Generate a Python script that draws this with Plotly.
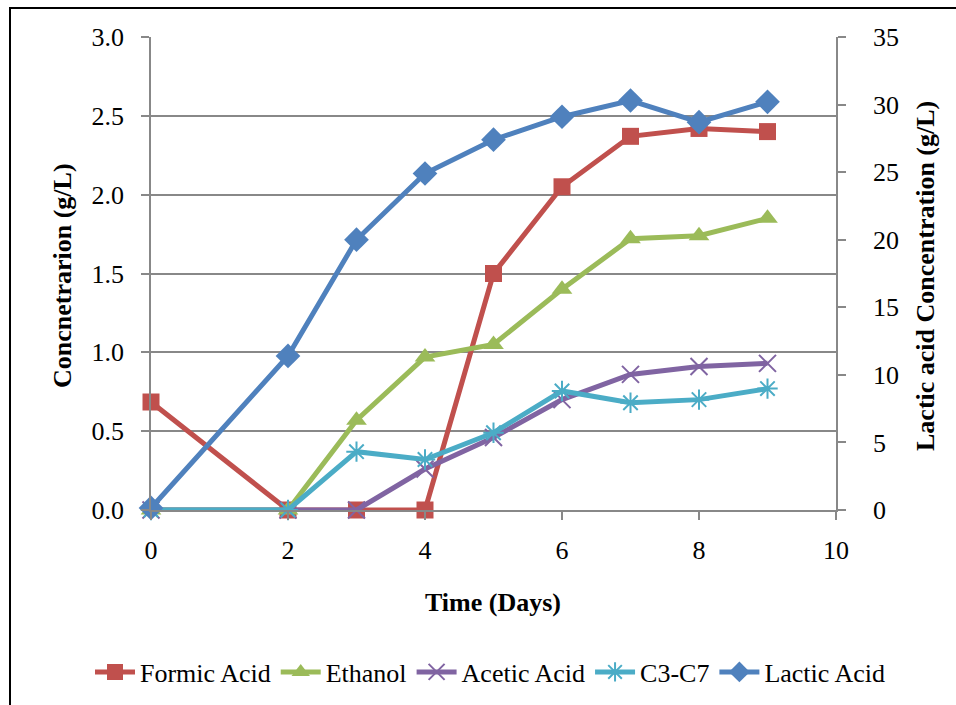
import plotly.graph_objects as go

days = [0, 2, 3, 4, 5, 6, 7, 8, 9]
formic = [0.685, 0.0, 0.0, 0.0, 1.50, 2.05, 2.37, 2.42, 2.40]
ethanol = [0.0, 0.0, 0.57, 0.97, 1.05, 1.40, 1.72, 1.74, 1.85]
acetic = [0.0, 0.0, 0.0, 0.26, 0.46, 0.70, 0.86, 0.91, 0.93]
c3_c7 = [0.0, 0.0, 0.37, 0.32, 0.49, 0.755, 0.68, 0.70, 0.77]
lactic = [0.15, 11.4, 20.0, 24.9, 27.4, 29.1, 30.3, 28.7, 30.2]

left_ticks = [0, 0.5, 1.0, 1.5, 2.0, 2.5, 3.0]
right_ticks = [0, 5, 10, 15, 20, 25, 30, 35]
x_ticks = [0, 2, 4, 6, 8, 10]

FONT = "Liberation Serif"
FS = 26
GRID = "#888888"

fig = go.Figure()

series = [
    ("Formic Acid", formic, "#C0504D", dict(symbol="square", size=17)),
    ("Ethanol", ethanol, "#9BBB59", dict(symbol="triangle-up", size=18)),
    ("Acetic Acid", acetic, "#8064A2", dict(symbol="x-thin-open", size=17, line=dict(width=2))),
    ("C3-C7", c3_c7, "#4BACC6", dict(symbol="asterisk-open", size=17, line=dict(width=2))),
]
for name, vals, color, mk in series:
    mk = dict(mk, color=color)
    if "line" in mk:
        mk["line"] = dict(mk["line"], color=color)
    fig.add_trace(go.Scatter(x=days, y=vals, name=name, mode="lines+markers",
                             cliponaxis=False,
                             line=dict(color=color, width=5), marker=mk))

fig.add_trace(go.Scatter(x=days, y=lactic, name="Lactic Acid", mode="lines+markers",
                         yaxis="y2", cliponaxis=False, line=dict(color="#4F81BD", width=5),
                         marker=dict(symbol="diamond", size=19, color="#4F81BD")))

W, H = 956, 705
L, R, T, B = 151, 120, 37, 195
pw, ph = W - L - R, H - T - B

def px_x(p):
    return (p - L) / pw

def px_y(p):
    return (H - B - p) / ph

axis_common = dict(zeroline=False, showline=True, linecolor=GRID, linewidth=1.5,
                   ticks="outside", ticklen=8, tickcolor=GRID, tickwidth=1.5,
                   tickfont=dict(size=FS, family=FONT, color="black"))

fig.update_layout(
    width=W, height=H,
    margin=dict(l=L, r=R, t=T, b=B, autoexpand=False),
    paper_bgcolor="white", plot_bgcolor="white",
    font=dict(family=FONT, size=FS, color="black"),
    showlegend=True,
    legend=dict(orientation="h", x=px_x(90), xanchor="left", y=px_y(672), yanchor="middle",
                font=dict(size=FS, family=FONT), itemwidth=40, tracegroupgap=0,
                bgcolor="rgba(0,0,0,0)"),
    xaxis=dict(range=[0, 10], tickvals=x_ticks, showgrid=False,
               ticklabelstandoff=8, **axis_common),
    yaxis=dict(range=[0, 3.0], tickvals=left_ticks, tickformat=".1f",
               showgrid=True, gridcolor=GRID, gridwidth=1.5,
               ticklabelstandoff=12, **axis_common),
    yaxis2=dict(range=[0, 35], tickvals=right_ticks, overlaying="y", side="right",
                showgrid=False, ticklabelstandoff=22, **axis_common),
    annotations=[
        dict(text="<b>Concnetrarion (g/L)</b>", xref="paper", yref="paper",
             x=px_x(62), y=px_y(276), xanchor="center", yanchor="middle",
             textangle=-90, showarrow=False, font=dict(size=FS, family=FONT)),
        dict(text="<b>Lactic acid Concentration (g/L)</b>", xref="paper", yref="paper",
             x=px_x(925), y=px_y(276), xanchor="center", yanchor="middle",
             textangle=-90, showarrow=False, font=dict(size=FS, family=FONT)),
        dict(text="<b>Time (Days)</b>", xref="paper", yref="paper",
             x=px_x(493), y=px_y(602), xanchor="center", yanchor="middle",
             showarrow=False, font=dict(size=FS, family=FONT)),
    ],
    shapes=[
        dict(type="rect", xref="paper", yref="paper",
             x0=px_x(10), x1=px_x(975), y0=px_y(725), y1=px_y(8),
             line=dict(color="black", width=2), fillcolor="rgba(0,0,0,0)", layer="below"),
    ],
)

fig.write_html("out.html")
